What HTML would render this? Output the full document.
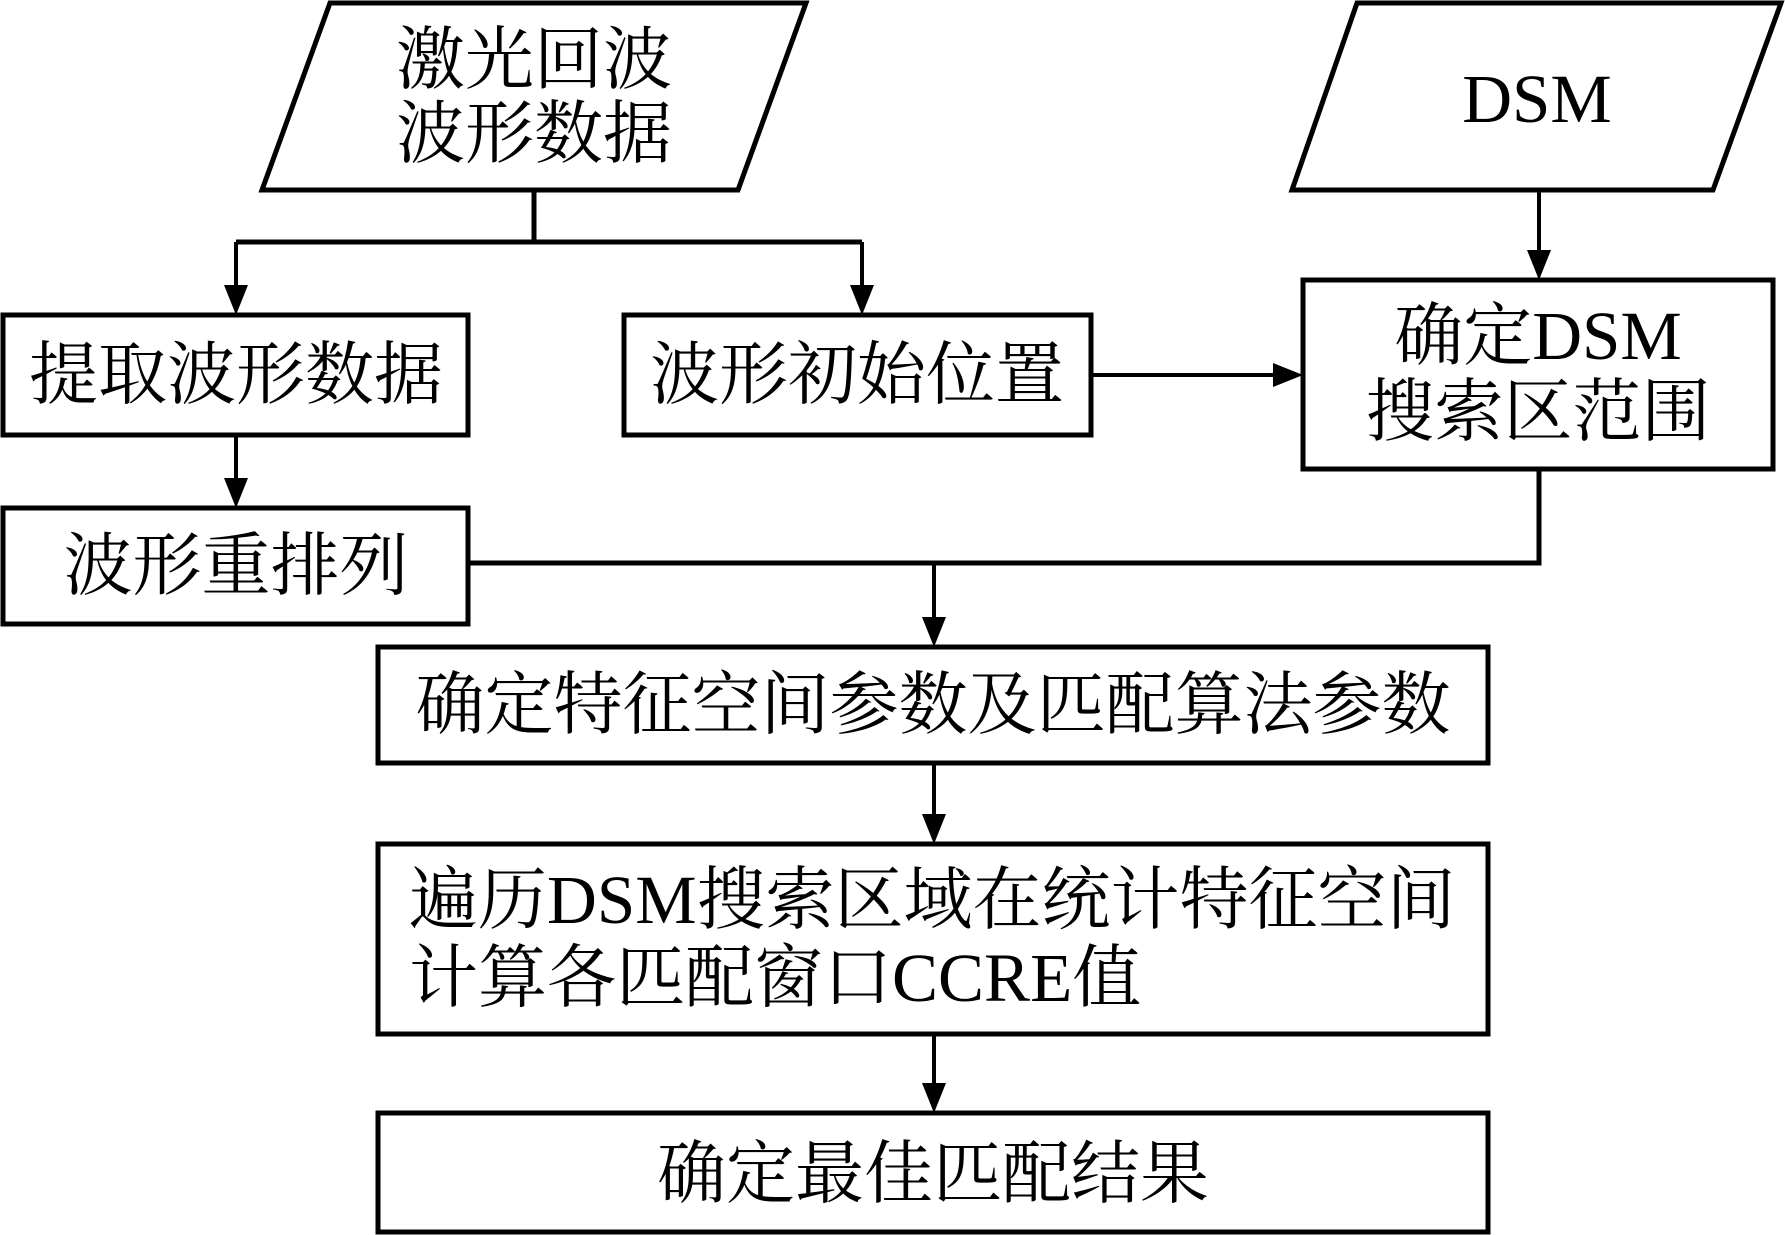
<!DOCTYPE html>
<html><head><meta charset="utf-8"><style>
html,body{margin:0;padding:0;background:#fff;}
svg{display:block;}
text{font-family:"Liberation Serif","Noto Serif CJK SC",serif;font-size:69px;fill:#000;text-anchor:middle;dominant-baseline:central;}
</style></head><body>
<svg width="1785" height="1235" viewBox="0 0 1785 1235" xmlns="http://www.w3.org/2000/svg">
<g fill="none" stroke="#000" stroke-width="5">
<polygon points="330,3 806,3 738,190 262,190"/>
<polygon points="1357,3 1781,3 1713,190 1292,190"/>
<rect x="3" y="315" width="465" height="120"/>
<rect x="624" y="315" width="467" height="120"/>
<rect x="1303" y="280" width="470" height="189"/>
<rect x="3" y="508" width="465" height="116"/>
<rect x="378" y="647" width="1110" height="116"/>
<rect x="378" y="844" width="1110" height="190"/>
<rect x="378" y="1113" width="1110" height="119"/>
<path d="M534,190 V242 M236,242 H862"/>
<path d="M1539,469 V563 H468"/>
</g>
<g fill="#000">
<rect x="234" y="242" width="4" height="45"/><polygon points="224,285 248,285 236,315"/>
<rect x="860" y="242" width="4" height="45"/><polygon points="850,285 874,285 862,315"/>
<rect x="1537" y="190" width="4" height="62"/><polygon points="1527,250 1551,250 1539,280"/>
<rect x="1091" y="373" width="185" height="4"/><polygon points="1273,363 1273,387 1303,375"/>
<rect x="234" y="435" width="4" height="45"/><polygon points="224,478 248,478 236,508"/>
<rect x="932" y="563" width="4" height="56"/><polygon points="922,617 946,617 934,647"/>
<rect x="932" y="763" width="4" height="53"/><polygon points="922,814 946,814 934,844"/>
<rect x="932" y="1034" width="4" height="51"/><polygon points="922,1083 946,1083 934,1113"/>
</g>
<text x="534" y="60">激光回波</text>
<text x="534" y="134">波形数据</text>
<text x="1537" y="99">DSM</text>
<text x="236" y="375">提取波形数据</text>
<text x="857" y="375">波形初始位置</text>
<text x="1538" y="336">确定DSM</text>
<text x="1538" y="412">搜索区范围</text>
<text x="236" y="566">波形重排列</text>
<text x="933" y="705">确定特征空间参数及匹配算法参数</text>
<text x="409" y="900" style="text-anchor:start">遍历DSM搜索区域在统计特征空间</text>
<text x="409" y="978" style="text-anchor:start">计算各匹配窗口CCRE值</text>
<text x="933" y="1174">确定最佳匹配结果</text>
</svg>
</body></html>
